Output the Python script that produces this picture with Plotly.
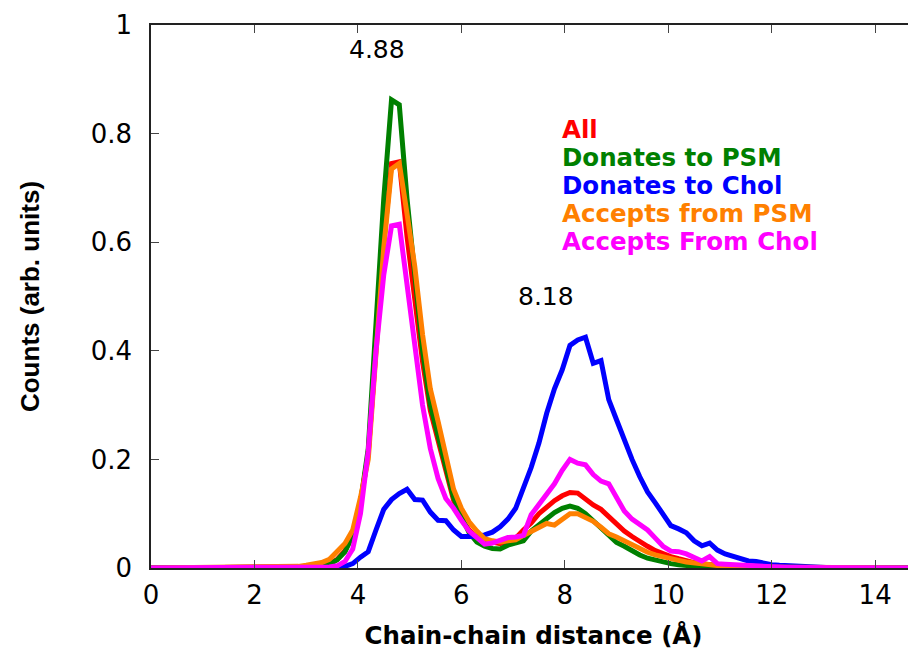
import plotly.graph_objects as go

# Chain-chain distance (Angstrom)
distance = [0,
            2.4, 2.55, 2.7, 2.85, 3.0, 3.15, 3.3, 3.45, 3.6, 3.75,
            3.9, 4.05, 4.2, 4.35, 4.5, 4.65, 4.8, 4.95, 5.1, 5.25,
            5.4, 5.55, 5.7, 5.85, 6.0, 6.15, 6.3, 6.45, 6.6, 6.75,
            6.9, 7.05, 7.2, 7.35, 7.5, 7.65, 7.8, 7.95, 8.1, 8.25,
            8.4, 8.55, 8.7, 8.85, 9.0, 9.15, 9.3, 9.45, 9.6, 9.75,
            9.9, 10.05, 10.2, 10.35, 10.5, 10.65, 10.8, 10.95, 11.1, 11.25,
            11.4, 11.55, 11.7, 11.85, 12.0, 12.15, 12.3, 12.45, 12.6, 12.75,
            12.9, 13.05, 13.2, 13.35,
            14.85]

counts_all = [0,
              0, 0, 0, 0, 0.001, 0.002, 0.004, 0.008, 0.016, 0.032,
              0.062, 0.12, 0.21, 0.42, 0.6, 0.745, 0.748, 0.61, 0.49, 0.38,
              0.29, 0.235, 0.18, 0.125, 0.09, 0.07, 0.055, 0.05, 0.048, 0.045,
              0.05, 0.055, 0.07, 0.083, 0.1, 0.112, 0.124, 0.133, 0.139, 0.138,
              0.127, 0.116, 0.108, 0.094, 0.082, 0.068, 0.058, 0.048, 0.04, 0.032,
              0.026, 0.021, 0.017, 0.013, 0.01, 0.008, 0.006, 0.004, 0.003, 0.002,
              0.001, 0.001, 0, 0, 0, 0, 0, 0, 0, 0,
              0, 0, 0, 0,
              0]

counts_donates_psm = [0,
                      0, 0, 0, 0.001, 0.001, 0.002, 0.004, 0.007, 0.015, 0.03,
                      0.06, 0.12, 0.22, 0.46, 0.68, 0.862, 0.853, 0.68, 0.53, 0.4,
                      0.3, 0.245, 0.19, 0.13, 0.095, 0.065, 0.048, 0.04, 0.036, 0.035,
                      0.042, 0.046, 0.05, 0.068, 0.08, 0.09, 0.102, 0.11, 0.114, 0.11,
                      0.1, 0.087, 0.074, 0.06, 0.047, 0.04, 0.031, 0.024, 0.018, 0.014,
                      0.011, 0.008, 0.006, 0.004, 0.003, 0.002, 0.001, 0.001, 0, 0,
                      0, 0, 0, 0, 0, 0, 0, 0, 0, 0,
                      0, 0, 0, 0,
                      0]

counts_donates_chol = [0,
                       0, 0, 0, 0, 0, 0, 0, 0, 0.001, 0.003,
                       0.008, 0.02, 0.03, 0.07, 0.108, 0.126, 0.137, 0.145, 0.126, 0.125,
                       0.103, 0.088, 0.087, 0.07, 0.058, 0.058, 0.058, 0.061, 0.066, 0.076,
                       0.09, 0.11, 0.148, 0.185, 0.23, 0.285, 0.33, 0.365, 0.41, 0.42,
                       0.425, 0.377, 0.382, 0.31, 0.273, 0.235, 0.2, 0.168, 0.14, 0.12,
                       0.1, 0.078, 0.072, 0.065, 0.05, 0.041, 0.046, 0.033, 0.026, 0.021,
                       0.016, 0.013, 0.012, 0.008, 0.006, 0.005, 0.004, 0.004, 0.003, 0.003,
                       0.002, 0.001, 0.001, 0,
                       0]

counts_accepts_psm = [0,
                      0.001, 0.001, 0.002, 0.003, 0.005, 0.007, 0.01, 0.016, 0.03, 0.045,
                      0.07, 0.13, 0.2, 0.4, 0.59, 0.735, 0.745, 0.652, 0.555, 0.43,
                      0.33, 0.27, 0.205, 0.145, 0.11, 0.085, 0.068, 0.054, 0.05, 0.048,
                      0.05, 0.052, 0.06, 0.068, 0.075, 0.082, 0.079, 0.091, 0.1, 0.1,
                      0.092, 0.086, 0.075, 0.063, 0.057, 0.05, 0.041, 0.034, 0.029, 0.024,
                      0.02, 0.017, 0.014, 0.011, 0.009, 0.007, 0.005, 0.004, 0.003, 0.002,
                      0.002, 0.001, 0, 0, 0, 0, 0, 0, 0, 0,
                      0, 0, 0, 0,
                      0]

counts_accepts_chol = [0,
                       0, 0, 0, 0, 0, 0, 0.001, 0.002, 0.004, 0.012,
                       0.035, 0.1, 0.215, 0.4, 0.54, 0.63, 0.633, 0.525, 0.41, 0.3,
                       0.22, 0.165, 0.128, 0.11, 0.088, 0.068, 0.056, 0.044, 0.046, 0.051,
                       0.056, 0.057, 0.06, 0.098, 0.118, 0.135, 0.155, 0.18, 0.2, 0.193,
                       0.19, 0.172, 0.16, 0.155, 0.13, 0.105, 0.09, 0.08, 0.07, 0.055,
                       0.04, 0.031, 0.03, 0.026, 0.02, 0.013, 0.021, 0.008, 0.007, 0.006,
                       0.005, 0.004, 0.003, 0.003, 0.002, 0.002, 0.001, 0.001, 0.001, 0.001,
                       0, 0, 0, 0,
                       0]

series_names = ["All", "Donates to PSM", "Donates to Chol",
                "Accepts from PSM", "Accepts From Chol"]
series_values = [counts_all, counts_donates_psm, counts_donates_chol,
                 counts_accepts_psm, counts_accepts_chol]
series_colors = ["#ff0000", "#008000", "#0000ff", "#ff8000", "#ff00ff"]

peak_positions = [4.88, 8.18]
peak_label_y = [0.954, 0.50]
peak_label_x = [4.36, 7.63]

x_ticks = [0, 2, 4, 6, 8, 10, 12, 14]
y_ticks = [0, 0.2, 0.4, 0.6, 0.8, 1]
y_tick_text = ["0", "0.2", "0.4", "0.6", "0.8", "1"]

fig = go.Figure()
for name, vals, col in zip(series_names, series_values, series_colors):
    fig.add_trace(go.Scatter(x=distance, y=vals, mode="lines", name=name,
                             line=dict(color=col, width=5), showlegend=False))

annotations = []
legend_y = [0.807, 0.756, 0.704, 0.653, 0.601]
for name, col, yy in zip(series_names, series_colors, legend_y):
    annotations.append(dict(x=7.9, y=yy, xref="x", yref="y", text="<b>%s</b>" % name,
                            showarrow=False, xanchor="left", yanchor="middle",
                            font=dict(family="DejaVu Sans", size=24.5, color=col)))
for px, lx, ly in zip(peak_positions, peak_label_x, peak_label_y):
    annotations.append(dict(x=lx, y=ly, xref="x", yref="y", text="%.2f" % px,
                            showarrow=False, xanchor="center", yanchor="middle",
                            font=dict(family="DejaVu Sans", size=25, color="black")))

axis_common = dict(showline=True, linecolor="#222222", linewidth=1.5, mirror="ticks",
                   ticks="inside", ticklen=8, tickwidth=1, tickcolor="#444444",
                   showgrid=False, zeroline=False, automargin=False,
                   tickfont=dict(family="DejaVu Sans", size=26, color="black"))

# the page adds an 8px body margin, so the figure is sized to fit the window
fig.update_layout(
    width=908, height=647,
    margin=dict(l=143, r=0, t=17, b=87),
    paper_bgcolor="white", plot_bgcolor="white",
    xaxis=dict(range=[0, 14.79], tickvals=x_ticks, ticklabelstandoff=3,
               title=dict(text="<b>Chain-chain distance (Å)</b>",
                          font=dict(family="DejaVu Sans", size=24.5, color="black"),
                          standoff=18),
               **axis_common),
    yaxis=dict(range=[0, 1], tickvals=y_ticks, ticktext=y_tick_text, ticklabelstandoff=12,
               title=dict(text="<b>Counts (arb. units)</b>",
                          font=dict(family="Liberation Sans", size=26, color="black"),
                          standoff=44),
               **axis_common),
    annotations=annotations,
)

fig.write_html("out.html")
